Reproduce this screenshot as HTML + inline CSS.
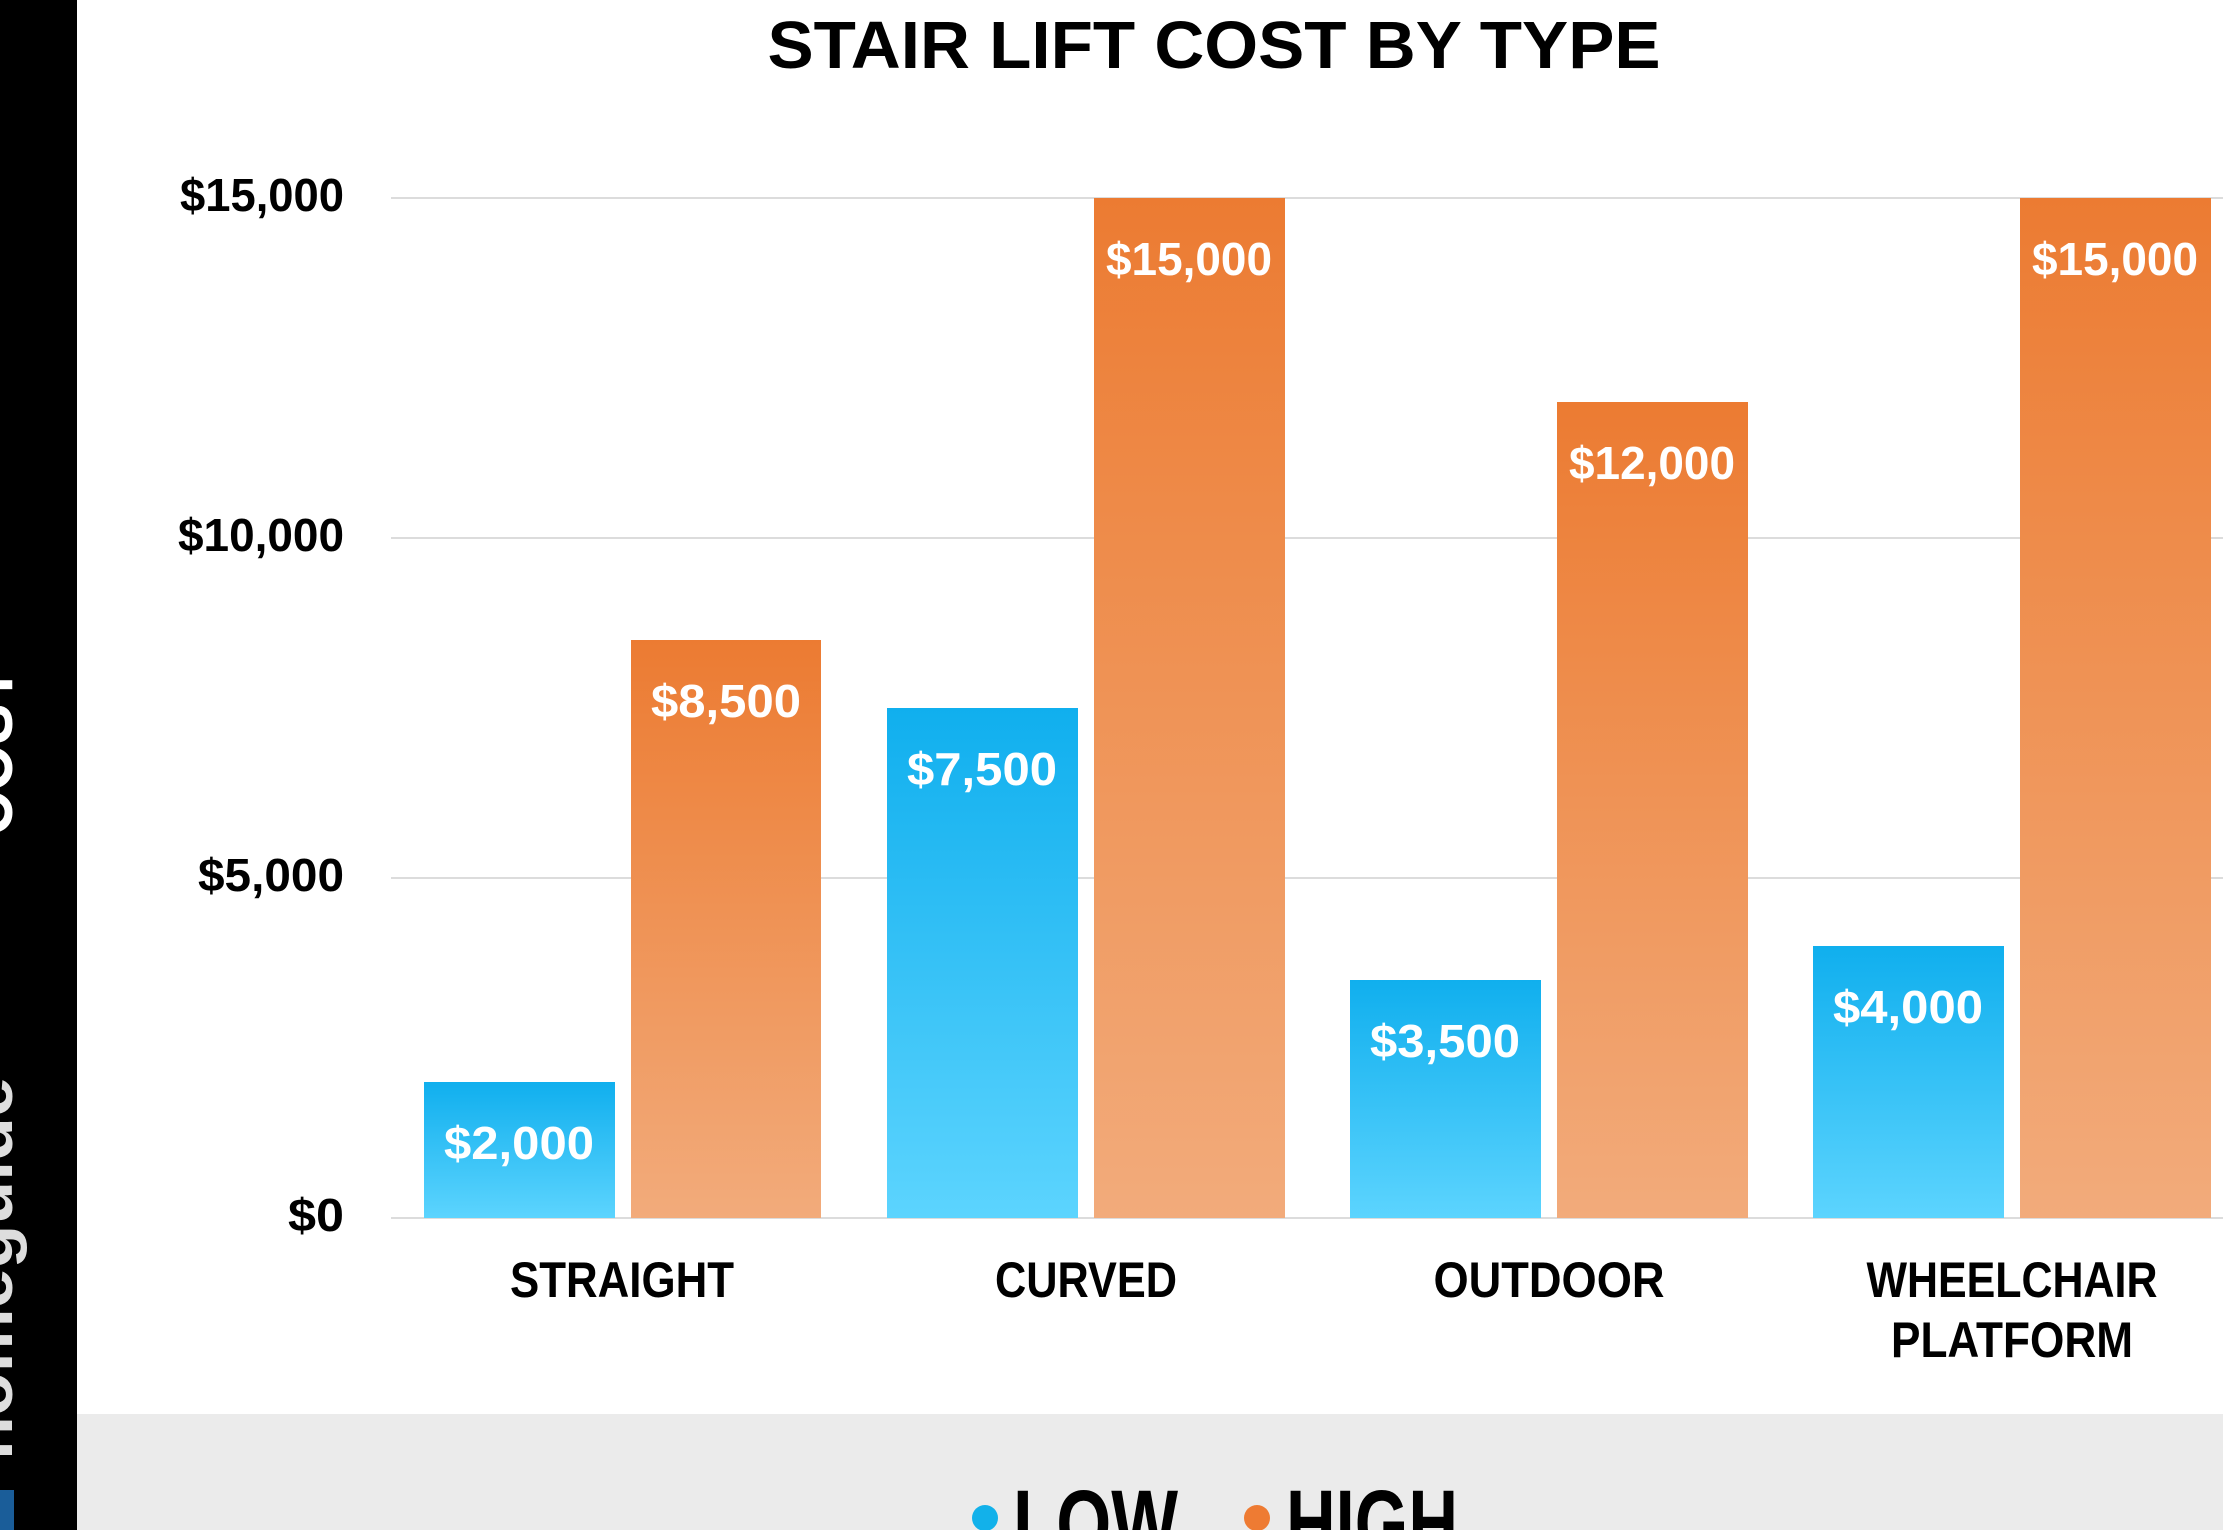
<!DOCTYPE html>
<html><head><meta charset="utf-8"><style>
html,body{margin:0;padding:0;width:2223px;height:1530px;overflow:hidden;background:#fff}
svg{display:block;font-family:"Liberation Sans",sans-serif;font-weight:bold}
</style></head><body>
<svg width="2223" height="1530" viewBox="0 0 2223 1530" xmlns="http://www.w3.org/2000/svg">
<defs>
<linearGradient id="gb" x1="0" y1="0" x2="0" y2="1"><stop offset="0" stop-color="#10afee"/><stop offset="1" stop-color="#5cd4fe"/></linearGradient>
<linearGradient id="go" x1="0" y1="0" x2="0" y2="1"><stop offset="0" stop-color="#ec7b32"/><stop offset="0.3" stop-color="#ee8a48"/><stop offset="1" stop-color="#f2ab7b"/></linearGradient>
</defs>
<rect x="0" y="0" width="2223" height="1530" fill="#fff"/>
<rect x="77" y="1414" width="2146" height="116" fill="#ebebeb"/>
<rect x="0" y="0" width="77" height="1530" fill="#000"/>
<text transform="translate(12,1460) rotate(-90)" font-size="70" fill="#ddd" textLength="383" lengthAdjust="spacingAndGlyphs">homeguide</text>
<text transform="translate(12,836) rotate(-90)" font-size="70" fill="#fff" textLength="170" lengthAdjust="spacingAndGlyphs">COST</text>
<rect x="0" y="1490" width="14" height="40" fill="#1a5d99"/>
<text x="1214" y="68" font-size="67" text-anchor="middle" textLength="893" lengthAdjust="spacingAndGlyphs">STAIR LIFT COST BY TYPE</text>
<g stroke="#dcdcdc" stroke-width="2">
<line x1="391" y1="198" x2="2223" y2="198"/>
<line x1="391" y1="538" x2="2223" y2="538"/>
<line x1="391" y1="878" x2="2223" y2="878"/>
<line x1="391" y1="1218" x2="2223" y2="1218"/>
</g>
<g font-size="46" text-anchor="end">
<text x="344" y="211" textLength="164" lengthAdjust="spacingAndGlyphs">$15,000</text>
<text x="344" y="551" textLength="166" lengthAdjust="spacingAndGlyphs">$10,000</text>
<text x="344" y="891" textLength="146" lengthAdjust="spacingAndGlyphs">$5,000</text>
<text x="344" y="1231" textLength="56" lengthAdjust="spacingAndGlyphs">$0</text>
</g>
<g>
<rect x="424" y="1082" width="191" height="136" fill="url(#gb)"/>
<rect x="631" y="640" width="190" height="578" fill="url(#go)"/>
<rect x="887" y="708" width="191" height="510" fill="url(#gb)"/>
<rect x="1094" y="198" width="191" height="1020" fill="url(#go)"/>
<rect x="1350" y="980" width="191" height="238" fill="url(#gb)"/>
<rect x="1557" y="402" width="191" height="816" fill="url(#go)"/>
<rect x="1813" y="946" width="191" height="272" fill="url(#gb)"/>
<rect x="2020" y="198" width="191" height="1020" fill="url(#go)"/>
</g>
<g font-size="46" fill="#fff" text-anchor="middle">
<text x="519" y="1159" textLength="150" lengthAdjust="spacingAndGlyphs">$2,000</text>
<text x="726" y="717" textLength="150" lengthAdjust="spacingAndGlyphs">$8,500</text>
<text x="982" y="785" textLength="150" lengthAdjust="spacingAndGlyphs">$7,500</text>
<text x="1189" y="275" textLength="166" lengthAdjust="spacingAndGlyphs">$15,000</text>
<text x="1445" y="1057" textLength="150" lengthAdjust="spacingAndGlyphs">$3,500</text>
<text x="1652" y="479" textLength="166" lengthAdjust="spacingAndGlyphs">$12,000</text>
<text x="1908" y="1023" textLength="150" lengthAdjust="spacingAndGlyphs">$4,000</text>
<text x="2115" y="275" textLength="166" lengthAdjust="spacingAndGlyphs">$15,000</text>
</g>
<g font-size="50" text-anchor="middle">
<text x="622" y="1297" textLength="224" lengthAdjust="spacingAndGlyphs">STRAIGHT</text>
<text x="1086" y="1297" textLength="182" lengthAdjust="spacingAndGlyphs">CURVED</text>
<text x="1549" y="1297" textLength="231" lengthAdjust="spacingAndGlyphs">OUTDOOR</text>
<text x="2012" y="1297" textLength="291" lengthAdjust="spacingAndGlyphs">WHEELCHAIR</text>
<text x="2012" y="1357" textLength="242" lengthAdjust="spacingAndGlyphs">PLATFORM</text>
</g>
<circle cx="985" cy="1518" r="13" fill="#12b1ea"/>
<circle cx="1257" cy="1518" r="13" fill="#ee7b33"/>
<text x="1013" y="1556" font-size="95" textLength="165" lengthAdjust="spacingAndGlyphs">LOW</text>
<text x="1286" y="1556" font-size="95" textLength="172" lengthAdjust="spacingAndGlyphs">HIGH</text>
</svg>
</body></html>
